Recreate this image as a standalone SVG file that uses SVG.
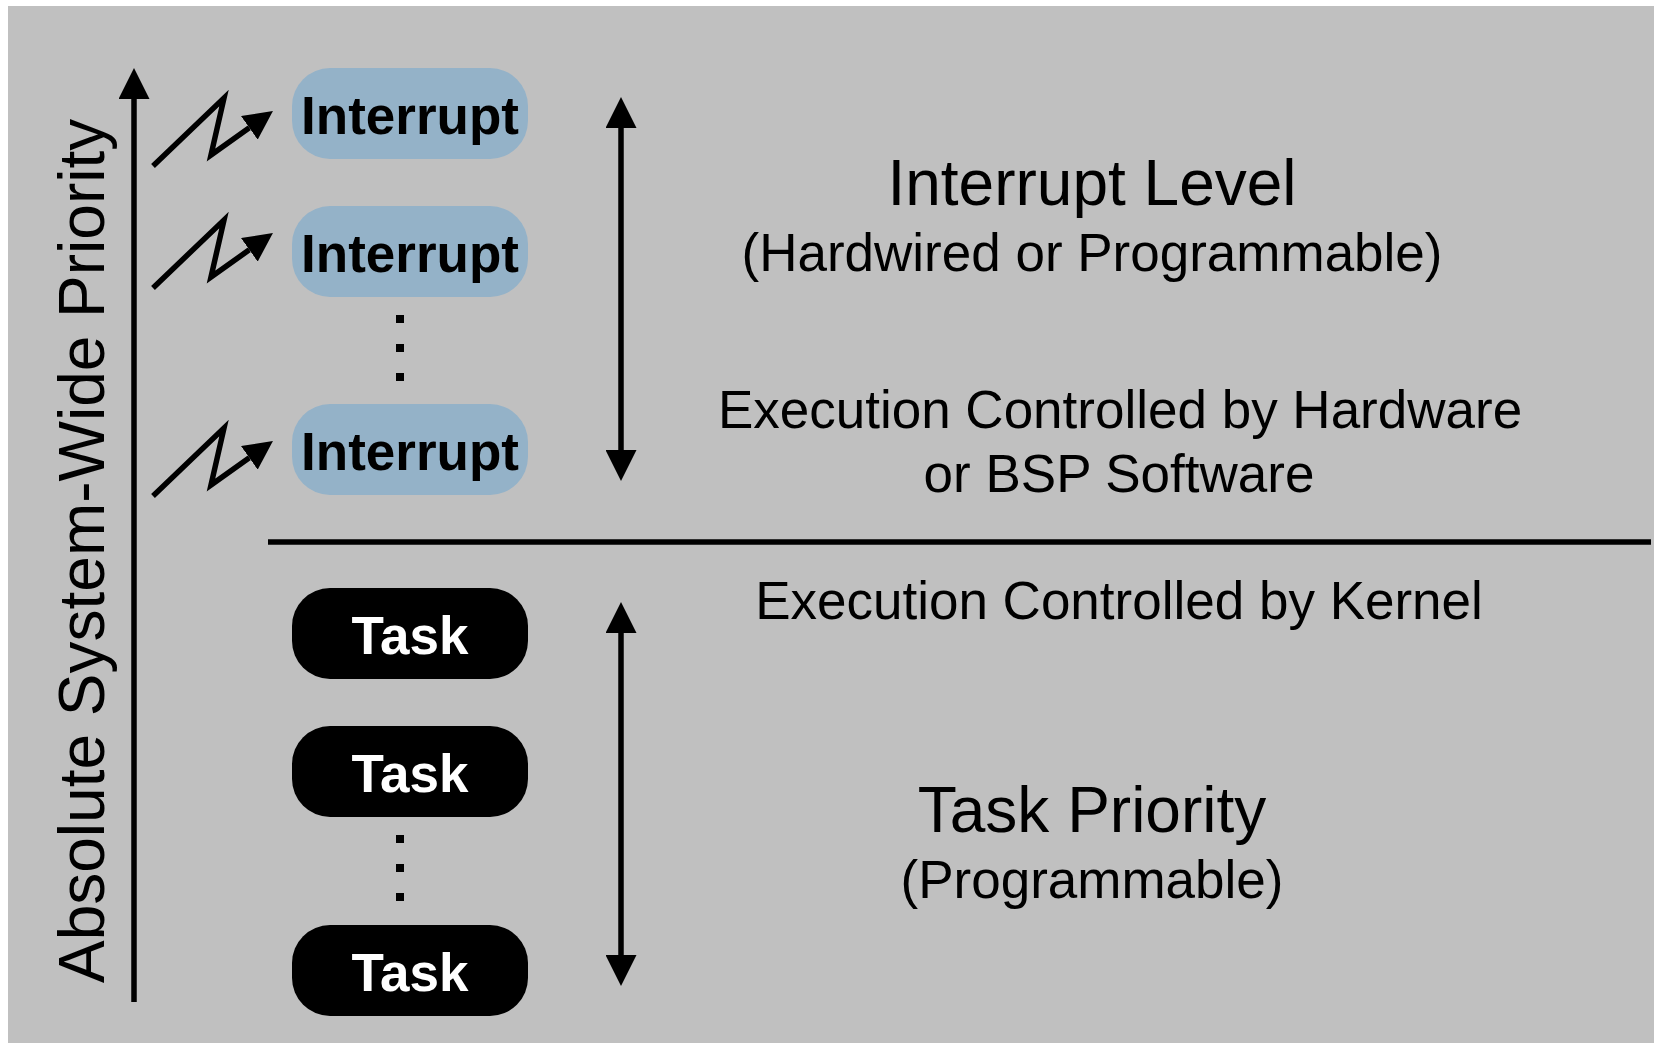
<svg xmlns="http://www.w3.org/2000/svg" width="1654" height="1043" viewBox="0 0 1654 1043">
  <style>
    .node-int { fill: #94b2c8; }
    .node-task { fill: #000000; }
    .lbl { font-family: "Liberation Sans", Arial, sans-serif; font-weight: bold; font-size: 53px; text-anchor: middle; }
    .int-lbl { fill: #000000; }
    .task-lbl { fill: #ffffff; }
    .txt { font-family: "Liberation Sans", Arial, sans-serif; fill: #000000; text-anchor: middle; }
    .big { font-size: 64px; }
    .mid { font-size: 53px; }
    .conn { stroke: #000000; stroke-width: 5.5; fill: none; }
    .dot { fill: #000000; }
  </style>
  <defs>
    <marker id="head" markerUnits="userSpaceOnUse" markerWidth="31" markerHeight="31" viewBox="0 0 30 30" refX="0" refY="15" orient="auto-start-reverse">
      <path d="M0,0 L30,15 L0,30 Z" fill="#000000"/>
    </marker>
    <marker id="bolthead" markerUnits="userSpaceOnUse" markerWidth="29" markerHeight="29" viewBox="0 0 30 30" refX="0" refY="15" orient="auto">
      <path d="M0,0 L30,15 L0,30 Z" fill="#000000"/>
    </marker>
    <g id="bolt">
      <polyline class="conn" stroke-linejoin="miter" points="0,0 71,-68 58,-11 96.3,-38.2" marker-end="url(#bolthead)"/>
    </g>
  </defs>

  <rect x="8" y="6" width="1646" height="1037" fill="#c0c0c0"/>

  <g id="axis-label">
    <text class="txt" font-size="64" transform="translate(104,983) rotate(-90)" style="text-anchor:start">Absolute System-Wide Priority</text>
  </g>

  <g id="connectors">
    <line class="conn" x1="134" y1="1002" x2="134" y2="99" stroke-width="6" marker-end="url(#head)"/>
    <line class="conn" x1="621" y1="128" x2="621" y2="450" marker-start="url(#head)" marker-end="url(#head)"/>
    <line class="conn" x1="621" y1="633" x2="621" y2="955" marker-start="url(#head)" marker-end="url(#head)"/>
    <line class="conn" x1="268" y1="542" x2="1651" y2="542" stroke-width="6"/>
    <use href="#bolt" transform="translate(153,166)"/>
    <use href="#bolt" transform="translate(153,288)"/>
    <use href="#bolt" transform="translate(153,496)"/>
  </g>

  <g id="interrupt-1">
    <rect class="node-int" x="292" y="68" width="236" height="91" rx="38" ry="38"/>
    <text class="lbl int-lbl" x="410" y="134">Interrupt</text>
  </g>
  <g id="interrupt-2">
    <rect class="node-int" x="292" y="206" width="236" height="91" rx="38" ry="38"/>
    <text class="lbl int-lbl" x="410" y="272">Interrupt</text>
  </g>
  <g id="interrupt-dots">
    <rect class="dot" x="396" y="315" width="8" height="8"/>
    <rect class="dot" x="396" y="344" width="8" height="8"/>
    <rect class="dot" x="396" y="373" width="8" height="8"/>
  </g>
  <g id="interrupt-3">
    <rect class="node-int" x="292" y="404" width="236" height="91" rx="38" ry="38"/>
    <text class="lbl int-lbl" x="410" y="470">Interrupt</text>
  </g>

  <g id="task-1">
    <rect class="node-task" x="292" y="588" width="236" height="91" rx="38" ry="38"/>
    <text class="lbl task-lbl" x="410" y="654">Task</text>
  </g>
  <g id="task-2">
    <rect class="node-task" x="292" y="726" width="236" height="91" rx="38" ry="38"/>
    <text class="lbl task-lbl" x="410" y="792">Task</text>
  </g>
  <g id="task-dots">
    <rect class="dot" x="396" y="835" width="8" height="8"/>
    <rect class="dot" x="396" y="864" width="8" height="8"/>
    <rect class="dot" x="396" y="893" width="8" height="8"/>
  </g>
  <g id="task-3">
    <rect class="node-task" x="292" y="925" width="236" height="91" rx="38" ry="38"/>
    <text class="lbl task-lbl" x="410" y="991">Task</text>
  </g>

  <g id="interrupt-level-text">
    <text class="txt big" x="1092" y="205">Interrupt Level</text>
    <text class="txt mid" x="1092" y="271">(Hardwired or Programmable)</text>
    <text class="txt mid" x="1120" y="428">Execution Controlled by Hardware</text>
    <text class="txt mid" x="1119" y="492">or BSP Software</text>
  </g>
  <g id="task-level-text">
    <text class="txt mid" x="1119" y="619">Execution Controlled by Kernel</text>
    <text class="txt big" x="1092" y="832">Task Priority</text>
    <text class="txt mid" x="1092" y="898">(Programmable)</text>
  </g>
</svg>
